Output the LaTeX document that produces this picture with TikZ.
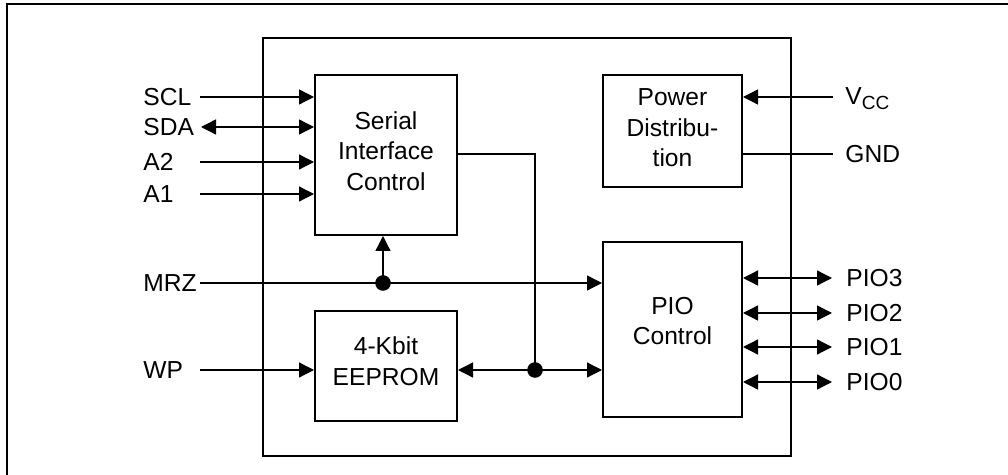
\documentclass[tikz,border=0pt]{standalone}
\usepackage{fontspec}
\setmainfont{Liberation Sans}
\usetikzlibrary{arrows.meta}
\begin{document}
\begin{tikzpicture}[x=0.5pt,y=-0.5pt,
  font=\fontsize{12.3}{14.5}\selectfont,
  sig/.style={line width=0.65pt},
  tip/.style={-{Triangle[length=7.5pt,width=7.5pt]}},
  both/.style={{Triangle[length=7.5pt,width=7.5pt]}-{Triangle[length=7.5pt,width=7.5pt]}},
  blk/.style={draw,line width=1pt,inner sep=0pt},
  lbl/.style={inner sep=0pt,anchor=west},
  btxt/.style={inner sep=0pt,align=center,font=\fontsize{12.3}{15.3}\selectfont},
  dot/.style={circle,fill=black,inner sep=0pt,minimum size=7.8pt}]
\useasboundingbox (0,0) rectangle (1008,475);
% outer frame (top and left only)
\draw[line width=1pt] (1008,4.5) -- (7,4.5) -- (7,475);
% chip
\draw[line width=1.3pt] (263,38) rectangle (791,456);
% blocks
\node[blk,minimum width=71pt,minimum height=80pt] (sic) at (386,155) {};
\node[blk,minimum width=71pt,minimum height=55pt] (eep) at (386,366) {};
\node[blk,minimum width=69.5pt,minimum height=56pt] (pwr) at (672.5,131) {};
\node[blk,minimum width=69.5pt,minimum height=87.5pt] (pio) at (672.5,329.5) {};
\node[btxt] at (386,151) {Serial\\Interface\\Control};
\node[btxt] at (386,361) {4-Kbit\\EEPROM};
\node[btxt] at (672.5,321) {PIO\\Control};
\node[btxt] at (672.5,128) {Power\\Distribu-\\tion};
% left labels
\node[lbl] (scl) at (143,97) {SCL};
\node[lbl] (sda) at (143,127) {SDA};
\node[lbl] (a2) at (143,162) {A2};
\node[lbl] (a1) at (143,194) {A1};
\node[lbl] (mrz) at (143,283) {MRZ};
\node[lbl] (wp) at (143,370) {WP};
\coordinate (sclS) at (200,97);
\coordinate (sdaS) at (201,127);
\coordinate (a2S) at (200,162);
\coordinate (a1S) at (200,194);
\coordinate (mrzS) at (200,283);
\coordinate (wpS) at (200,370);
\draw[sig,tip] (sclS) -- (sclS -| sic.west);
\draw[sig,both] (sdaS) -- (sdaS -| sic.west);
\draw[sig,tip] (a2S) -- (a2S -| sic.west);
\draw[sig,tip] (a1S) -- (a1S -| sic.west);
\draw[sig,tip] (wpS) -- (wpS -| eep.west);
% MRZ
\node[dot] (d1) at (383,283) {};
\draw[sig,tip] (mrzS) -- (mrzS -| pio.west);
\draw[sig,tip] (d1.center) -- (d1.center |- sic.south);
% bus
\node[dot] (d2) at (535,370) {};
\coordinate (sicout) at (457,154);
\draw[sig] (sicout) -| (d2.center);
\draw[sig,tip] (d2.center) -- (d2.center -| eep.east);
\draw[sig,tip] (d2.center) -- (d2.center -| pio.west);
% right side
\node[lbl] (vcc) at (845,99) {V\textsubscript{\fontsize{9.5}{10}\selectfont CC}};
\node[lbl] (gnd) at (845,154) {GND};
\coordinate (vccS) at (833,97);
\coordinate (gndS) at (833,154);
\draw[sig,tip] (vccS) -- (vccS -| pwr.east);
\draw[sig] (gndS) -- (gndS -| pwr.east);
\foreach \n/\y in {3/278,2/313,1/347,0/382}{
  \node[lbl] (pio\n) at (846,\y) {PIO\n};
  \coordinate (pioS\n) at (832,\y);
  \draw[sig,both] (pioS\n -| pio.east) -- (pioS\n);
}
\end{tikzpicture}
\end{document}
